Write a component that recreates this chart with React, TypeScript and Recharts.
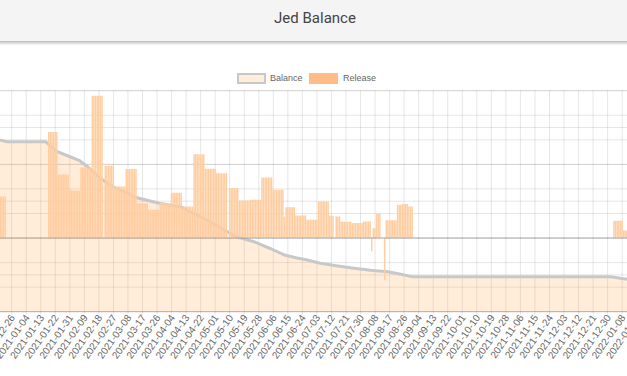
import React from 'react';
import {
  ComposedChart,
  Bar,
  Area,
  XAxis,
  YAxis,
  CartesianGrid,
  ReferenceLine
} from 'recharts';

// one row per day, starting here
const startDate = [2020, 11, 17];
const dayCount = 400;

// release per day, as runs: [first day, last day, amount]
const releaseRuns: [string, string, number][] = [
  ['2020-12-17', '2020-12-22', 1130],
  ['2021-01-18', '2021-01-23', 2878],
  ['2021-01-24', '2021-01-30', 1727],
  ['2021-01-31', '2021-02-06', 1292],
  ['2021-02-07', '2021-02-13', 1917],
  ['2021-02-14', '2021-02-20', 3864],
  ['2021-02-22', '2021-02-27', 1963],
  ['2021-02-28', '2021-03-06', 1400],
  ['2021-03-07', '2021-03-13', 1873],
  ['2021-03-14', '2021-03-20', 945],
  ['2021-03-21', '2021-03-27', 768],
  ['2021-03-28', '2021-04-03', 950],
  ['2021-04-04', '2021-04-10', 1230],
  ['2021-04-11', '2021-04-17', 858],
  ['2021-04-18', '2021-04-24', 2275],
  ['2021-04-25', '2021-05-01', 1880],
  ['2021-05-02', '2021-05-08', 1760],
  ['2021-05-10', '2021-05-15', 1358],
  ['2021-05-16', '2021-05-22', 1018],
  ['2021-05-23', '2021-05-29', 1040],
  ['2021-05-30', '2021-06-05', 1645],
  ['2021-06-06', '2021-06-12', 1311],
  ['2021-06-13', '2021-06-13', 578],
  ['2021-06-14', '2021-06-19', 836],
  ['2021-06-20', '2021-06-26', 614],
  ['2021-06-27', '2021-07-03', 497],
  ['2021-07-04', '2021-07-10', 994],
  ['2021-07-11', '2021-07-13', 605],
  ['2021-07-15', '2021-07-17', 586],
  ['2021-07-18', '2021-07-24', 443],
  ['2021-07-25', '2021-07-31', 407],
  ['2021-08-01', '2021-08-05', 451],
  ['2021-08-06', '2021-08-06', -358],
  ['2021-08-07', '2021-08-08', 266],
  ['2021-08-09', '2021-08-11', 660],
  ['2021-08-14', '2021-08-14', -1146],
  ['2021-08-15', '2021-08-21', 483],
  ['2021-08-22', '2021-08-24', 904],
  ['2021-08-25', '2021-08-28', 926],
  ['2021-08-29', '2021-08-31', 858],
  ['2022-01-03', '2022-01-08', 470],
  ['2022-01-09', '2022-01-20', 206]
];

// balance read at the corners of the line
const balanceDates = [
  '2020-12-17', '2020-12-23', '2021-01-16', '2021-01-23', '2021-01-30',
  '2021-02-06', '2021-02-11', '2021-02-19', '2021-02-27', '2021-03-06',
  '2021-03-13', '2021-03-28', '2021-04-10', '2021-04-17', '2021-04-26',
  '2021-05-06', '2021-05-14', '2021-05-25', '2021-06-04', '2021-06-13',
  '2021-06-20', '2021-06-27', '2021-07-05', '2021-07-16', '2021-07-26',
  '2021-08-05', '2021-08-16', '2021-08-24', '2021-08-31', '2022-01-01',
  '2022-01-11', '2022-01-20'
];
const balanceValues = [
  702100, 692300, 692300, 652400, 634100,
  615800, 590500, 542400, 507800, 487500,
  465100, 440600, 426400, 401900, 373400,
  335600, 305400, 285100, 257400, 230900,
  219900, 210500, 197100, 186100, 176700,
  168600, 162900, 152300, 142500, 142500,
  131900, 127900
];

const balanceTicks = [0, 100000, 200000, 300000, 400000, 500000, 600000, 700000, 800000, 900000];
const releaseTicks = [-2000, -1000, 0, 1000, 2000, 3000, 4000];

const dates = Array.from({ length: dayCount }, (_, i) =>
  new Date(Date.UTC(startDate[0], startDate[1], startDate[2] + i)).toISOString().slice(0, 10)
);

const data = dates.map(date => {
  const run = releaseRuns.find(([a, b]) => date >= a && date <= b);
  const k = balanceDates.indexOf(date);
  return {
    date,
    release: run ? run[2] : null,
    balance: k >= 0 ? balanceValues[k] : null
  };
});

const FONT = '"Liberation Sans", Arial, sans-serif';

const DateTick = ({ x, y, payload }: any) => (
  <text
    x={x + 1}
    y={y + 1}
    transform={`rotate(-55, ${x + 1}, ${y + 1})`}
    textAnchor="end"
    dy="0.35em"
    fontSize={10}
    fontFamily={FONT}
    fill="#666"
  >
    {payload.value}
  </text>
);

const App: React.FC = () => {
  const plotLeft = 16.35;
  const plotWidth = 646;
  return (
    <div style={{ position: 'absolute', left: 0, top: 0, width: 627, height: 376, overflow: 'hidden', background: '#fff' }}>
      <div style={{ position: 'absolute', left: -20, top: 0 }}>
        <ComposedChart
          width={plotLeft + plotWidth + 10}
          height={376}
          data={data}
          margin={{ top: 90.7, right: 10, bottom: 4.3, left: plotLeft }}
          barCategoryGap={0}
          barGap={0}
        >
          <CartesianGrid yAxisId="bal" stroke="rgba(0,0,0,0.1)" />
          <CartesianGrid yAxisId="rel" vertical={false} stroke="rgba(0,0,0,0.1)" />
          <XAxis
            dataKey="date"
            interval={8}
            height={60}
            tickSize={3}
            tickMargin={0}
            tickLine={{ stroke: 'rgba(0,0,0,0.1)' }}
            axisLine={{ stroke: 'rgba(0,0,0,0.15)' }}
            tick={<DateTick />}
          />
          <YAxis yAxisId="bal" hide domain={[0, 900000]} ticks={balanceTicks} />
          <YAxis yAxisId="rel" hide orientation="right" domain={[-2000, 4000]} ticks={releaseTicks} />
          <ReferenceLine yAxisId="rel" y={0} stroke="rgba(0,0,0,0.22)" />
          <Bar
            yAxisId="rel"
            dataKey="release"
            name="Release"
            fill="#ffcda0"
            barSize={1.7}
            isAnimationActive={false}
          />
          <Area
            yAxisId="bal"
            type="linear"
            dataKey="balance"
            name="Balance"
            connectNulls
            stroke="#c8c8c8"
            strokeWidth={3}
            fill="rgb(255,159,64)"
            fillOpacity={0.2}
            dot={false}
            activeDot={false}
            isAnimationActive={false}
          />
        </ComposedChart>
      </div>

      {/* legend */}
      <div style={{ position: 'absolute', left: 0, top: 0, fontFamily: FONT, fontSize: 9, color: '#666' }}>
        <div style={{ position: 'absolute', left: 236.5, top: 73, width: 25, height: 7, border: '2px solid #c8c8c8', background: '#ffecd9' }} />
        <div style={{ position: 'absolute', left: 270, top: 72, lineHeight: '12px', whiteSpace: 'nowrap' }}>Balance</div>
        <div style={{ position: 'absolute', left: 309, top: 73, width: 29, height: 11, background: '#ffbc88' }} />
        <div style={{ position: 'absolute', left: 343, top: 72, lineHeight: '12px', whiteSpace: 'nowrap' }}>Release</div>
      </div>

      {/* header */}
      <div
        style={{
          position: 'absolute',
          left: -10,
          top: 0,
          width: 650,
          height: 41,
          background: '#f4f4f4',
          boxShadow: '0 2px 3px rgba(0,0,0,0.28)',
          fontFamily: 'Roboto, sans-serif',
          fontSize: 15,
          color: '#444',
          textAlign: 'center',
          lineHeight: '37px'
        }}
      >
        Jed Balance
      </div>
    </div>
  );
};

export default App;
